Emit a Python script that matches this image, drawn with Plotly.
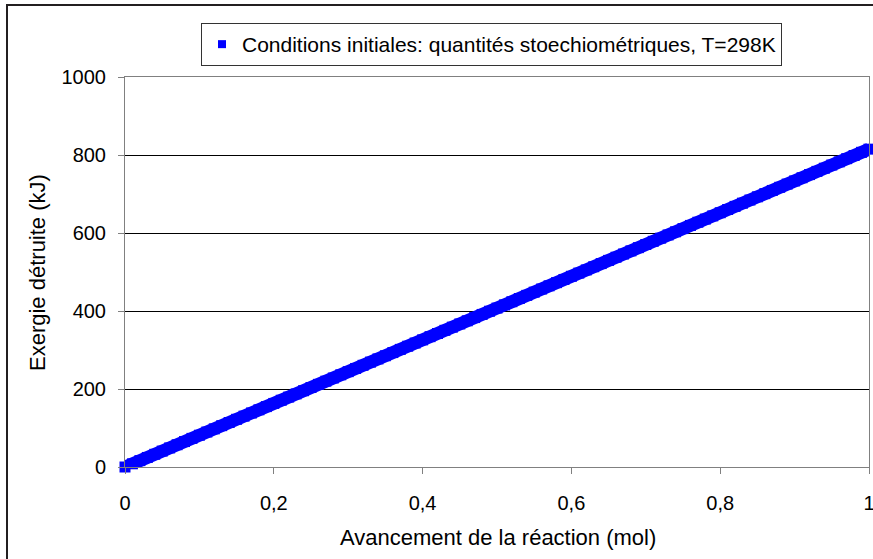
import plotly.graph_objects as go

# Data
avancement = [0.00, 0.01, 0.02, 0.03, 0.04, 0.05, 0.06, 0.07, 0.08, 0.09,
              0.10, 0.11, 0.12, 0.13, 0.14, 0.15, 0.16, 0.17, 0.18, 0.19,
              0.20, 0.21, 0.22, 0.23, 0.24, 0.25, 0.26, 0.27, 0.28, 0.29,
              0.30, 0.31, 0.32, 0.33, 0.34, 0.35, 0.36, 0.37, 0.38, 0.39,
              0.40, 0.41, 0.42, 0.43, 0.44, 0.45, 0.46, 0.47, 0.48, 0.49,
              0.50, 0.51, 0.52, 0.53, 0.54, 0.55, 0.56, 0.57, 0.58, 0.59,
              0.60, 0.61, 0.62, 0.63, 0.64, 0.65, 0.66, 0.67, 0.68, 0.69,
              0.70, 0.71, 0.72, 0.73, 0.74, 0.75, 0.76, 0.77, 0.78, 0.79,
              0.80, 0.81, 0.82, 0.83, 0.84, 0.85, 0.86, 0.87, 0.88, 0.89,
              0.90, 0.91, 0.92, 0.93, 0.94, 0.95, 0.96, 0.97, 0.98, 0.99,
              1.00]
exergie_detruite = [0.0, 8.2, 16.3, 24.5, 32.6, 40.8, 48.9, 57.1, 65.2, 73.4,
                    81.5, 89.7, 97.8, 106.0, 114.1, 122.3, 130.4, 138.6, 146.7, 154.9,
                    163.0, 171.2, 179.3, 187.5, 195.6, 203.8, 211.9, 220.1, 228.2, 236.4,
                    244.5, 252.7, 260.8, 269.0, 277.1, 285.3, 293.4, 301.6, 309.7, 317.9,
                    326.0, 334.2, 342.3, 350.5, 358.6, 366.8, 374.9, 383.1, 391.2, 399.4,
                    407.5, 415.7, 423.8, 432.0, 440.1, 448.3, 456.4, 464.6, 472.7, 480.9,
                    489.0, 497.2, 505.3, 513.5, 521.6, 529.8, 537.9, 546.1, 554.2, 562.4,
                    570.5, 578.7, 586.8, 595.0, 603.1, 611.3, 619.4, 627.6, 635.7, 643.9,
                    652.0, 660.2, 668.3, 676.5, 684.6, 692.8, 700.9, 709.1, 717.2, 725.4,
                    733.5, 741.7, 749.8, 758.0, 766.1, 774.3, 782.4, 790.6, 798.7, 806.9,
                    815.0]
series_name = "Conditions initiales: quantités stoechiométriques, T=298K"
x_title = "Avancement de la réaction (mol)"
y_title = "Exergie détruite (kJ)"

FONT = "Liberation Sans, Arial, sans-serif"
BLUE = "#0000ff"

fig = go.Figure()
fig.add_trace(go.Scatter(
    x=avancement, y=exergie_detruite, mode="lines+markers", name=series_name,
    line=dict(color=BLUE, width=13),
    marker=dict(symbol="square", size=11, color=BLUE, line=dict(width=0)),
    cliponaxis=False, showlegend=False,
))
# legend entry (marker only)
fig.add_trace(go.Scatter(
    x=[None], y=[None], mode="markers", name=series_name,
    marker=dict(symbol="square", size=8, color=BLUE, line=dict(width=0)),
    showlegend=True,
))

# Outer chart frame (only top and left edges are visible in the reference)
fig.add_shape(type="rect", xref="paper", yref="paper",
              x0=-0.1586, x1=1.03, y0=-0.30, y1=1.1846,
              line=dict(color="#231f20", width=2), layer="below")

# Axis titles
fig.add_annotation(text=x_title, xref="paper", yref="paper", x=0.5018, y=-0.1795,
                   xanchor="center", yanchor="middle", showarrow=False,
                   font=dict(size=22))
fig.add_annotation(text=y_title, xref="paper", yref="paper", x=-0.1183, y=0.5,
                   xanchor="center", yanchor="middle", showarrow=False,
                   textangle=-90, font=dict(size=22))

fig.update_layout(
    width=873, height=559,
    margin=dict(l=125, r=4, t=77, b=92, autoexpand=False),
    paper_bgcolor="white", plot_bgcolor="white",
    separators=", ",
    font=dict(family=FONT, size=20, color="black"),
    showlegend=True,
    legend=dict(xref="container", yref="container",
                x=201 / 873, y=1 - 23 / 559, xanchor="left", yanchor="top",
                bordercolor="#333333", borderwidth=1, bgcolor="white",
                font=dict(size=21), itemwidth=30, tracegroupgap=0),
    xaxis=dict(range=[0, 1], dtick=0.2, tick0=0, showgrid=False, zeroline=False,
               automargin=False, ticklabeloverflow="allow",
               showline=True, linecolor="#808080", linewidth=1, mirror=True,
               ticks="outside", ticklen=6, tickcolor="#808080",
               ticklabelstandoff=12),
    yaxis=dict(range=[0, 1000], dtick=200, tick0=0, showgrid=True, gridcolor="black",
               gridwidth=1, zeroline=False, automargin=False,
               showline=True, linecolor="#808080", linewidth=1, mirror=True,
               ticks="outside", ticklen=6, tickcolor="#808080",
               ticklabelstandoff=8),
)

fig.write_html("out.html",
               config={"displayModeBar": False},
               post_script="document.body.style.margin='0';"
                           "document.body.style.overflow='hidden';")
